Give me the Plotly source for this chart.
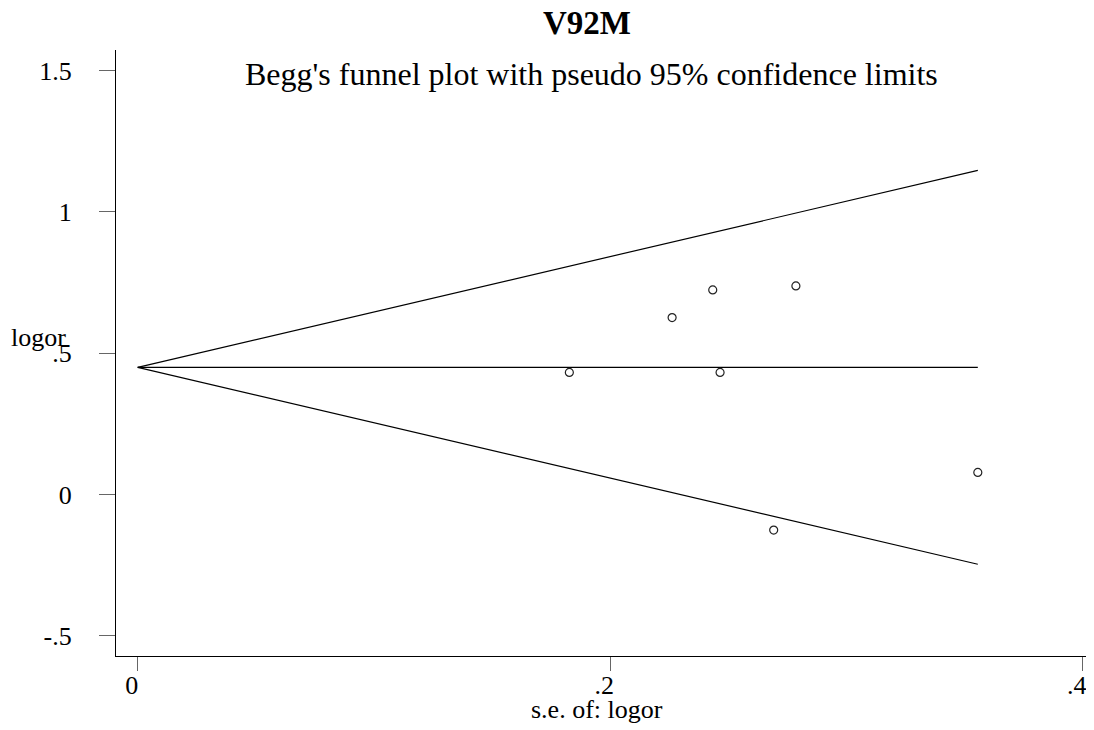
import plotly.graph_objects as go

# Study data
se_logor = [0.1827, 0.2262, 0.2434, 0.2465, 0.2786, 0.2692, 0.3556]
logor = [0.432, 0.626, 0.724, 0.432, 0.738, -0.126, 0.078]
pooled = 0.450
z = 1.96

x_ticks = [0, 0.2, 0.4]
x_tick_text = ["0", ".2", ".4"]
y_ticks = [-0.5, 0, 0.5, 1, 1.5]
y_tick_text = ["-.5", "0", ".5", "1", "1.5"]

title = "V92M"
subtitle = "Begg's funnel plot with pseudo 95% confidence limits"
x_title = "s.e. of: logor"
y_title = "logor"

se_max = max(se_logor)
line_x = [0, se_max]

FONT = "Liberation Serif"

fig = go.Figure()
fig.add_trace(go.Scatter(x=line_x, y=[pooled + z * s for s in line_x], mode="lines",
                         line=dict(color="black", width=1.2), showlegend=False, hoverinfo="skip"))
fig.add_trace(go.Scatter(x=line_x, y=[pooled, pooled], mode="lines",
                         line=dict(color="black", width=1.2), showlegend=False, hoverinfo="skip"))
fig.add_trace(go.Scatter(x=line_x, y=[pooled - z * s for s in line_x], mode="lines",
                         line=dict(color="black", width=1.2), showlegend=False, hoverinfo="skip"))
fig.add_trace(go.Scatter(x=se_logor, y=logor, mode="markers",
                         marker=dict(symbol="circle-open", size=8, color="#222",
                                     line=dict(width=1.2, color="#222")),
                         showlegend=False))

fig.update_layout(
    width=1086, height=722,
    margin=dict(l=108, r=0, t=42, b=74, autoexpand=False),
    paper_bgcolor="white", plot_bgcolor="white",
    font=dict(family=FONT, color="black", size=26),
    xaxis=dict(range=[-0.00919, 0.40478], tickvals=x_ticks, ticktext=x_tick_text,
               showgrid=False, zeroline=False, showline=True, linecolor="black", linewidth=1.3,
               ticks="outside", ticklen=14, tickcolor="#666", tickwidth=1.2, automargin=False,
               tickfont=dict(family=FONT, size=26), ticklabelshift=-6, ticklabelstandoff=-8),
    yaxis=dict(range=[-0.5719, 1.5733], tickvals=y_ticks, ticktext=y_tick_text,
               showgrid=False, zeroline=False, showline=True, linecolor="black", linewidth=1.3,
               ticks="outside", ticklen=16, tickcolor="#666", tickwidth=1.2, automargin=False,
               tickfont=dict(family=FONT, size=26), ticklabelstandoff=22),
    annotations=[
        dict(text="<b>" + title + "</b>", xref="paper", yref="paper", x=0.4816, y=1.0446,
             xanchor="center", yanchor="middle", showarrow=False, font=dict(family=FONT, size=33)),
        dict(text=subtitle, xref="paper", yref="paper", x=0.4867, y=0.9596,
             xanchor="center", yanchor="middle", showarrow=False, font=dict(family=FONT, size=32)),
        dict(text=y_title, xref="paper", yref="paper", x=-0.049, y=0.526,
             xanchor="right", yanchor="middle", showarrow=False, font=dict(family=FONT, size=26)),
        dict(text=x_title, xref="paper", yref="paper", x=0.492, y=-0.089,
             xanchor="center", yanchor="middle", showarrow=False, font=dict(family=FONT, size=26)),
    ],
)

fig.write_html("out.html")
